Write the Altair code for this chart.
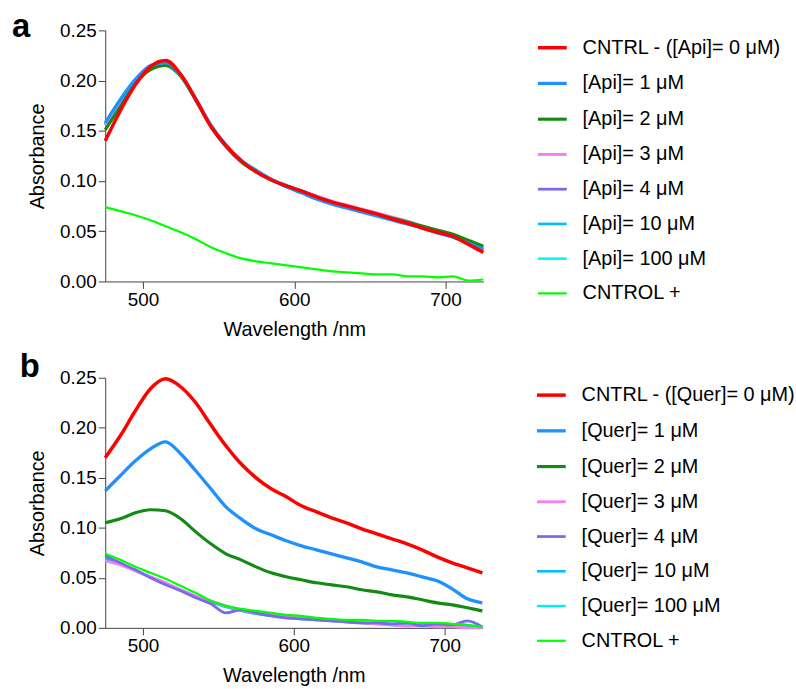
import altair as alt
import pandas as pd

WL = [475, 485, 495, 505, 515, 525, 535, 545, 555, 565, 575, 585, 595,
      605, 615, 625, 635, 645, 655, 665, 675, 685, 695, 705, 715, 725]

A_LABELS = ["CNTRL - ([Api]= 0 μM)", "[Api]= 1 μM", "[Api]= 2 μM", "[Api]= 3 μM",
            "[Api]= 4 μM", "[Api]= 10 μM", "[Api]= 100 μM", "CNTROL +"]
B_LABELS = ["CNTRL - ([Quer]= 0 μM)", "[Quer]= 1 μM", "[Quer]= 2 μM", "[Quer]= 3 μM",
            "[Quer]= 4 μM", "[Quer]= 10 μM", "[Quer]= 100 μM", "CNTROL +"]
COLORS = ["#FF0000", "#1E90FF", "#138A13", "#EE82EE", "#7B68EE", "#00BFFF", "#00F0F0", "#00FF00"]
WIDTHS = [3.5, 2.2, 2.2, 2.2, 2.2, 2.2, 2.2, 3.5]

# Panel a (Apigenin)
A_CNTRL = [0.140, 0.170, 0.196, 0.214, 0.220, 0.206, 0.181, 0.154, 0.135, 0.120, 0.109, 0.101, 0.095,
           0.090, 0.084, 0.079, 0.075, 0.071, 0.067, 0.062, 0.058, 0.053, 0.049, 0.045, 0.037, 0.029]
A_1 = [0.158, 0.181, 0.201, 0.215, 0.218, 0.205, 0.181, 0.155, 0.135, 0.120, 0.110, 0.101, 0.094,
       0.088, 0.082, 0.077, 0.073, 0.069, 0.065, 0.061, 0.057, 0.053, 0.048, 0.044, 0.038, 0.032]
A_2 = [0.151, 0.174, 0.197, 0.211, 0.215, 0.204, 0.180, 0.154, 0.134, 0.119, 0.109, 0.101, 0.095,
       0.090, 0.084, 0.079, 0.075, 0.071, 0.067, 0.063, 0.059, 0.055, 0.051, 0.047, 0.041, 0.035]
A_3 = [0.155, 0.177, 0.199, 0.213, 0.219, 0.206, 0.182, 0.155, 0.135, 0.120, 0.110, 0.102, 0.095,
       0.090, 0.085, 0.080, 0.076, 0.072, 0.068, 0.064, 0.060, 0.055, 0.050, 0.045, 0.039, 0.033]
A_4 = [0.156, 0.178, 0.200, 0.214, 0.218, 0.205, 0.181, 0.155, 0.135, 0.120, 0.110, 0.101, 0.095,
       0.089, 0.084, 0.079, 0.075, 0.071, 0.067, 0.063, 0.058, 0.054, 0.049, 0.045, 0.039, 0.033]
A_10 = [0.157, 0.181, 0.201, 0.214, 0.218, 0.206, 0.182, 0.156, 0.136, 0.121, 0.111, 0.102, 0.095,
        0.090, 0.084, 0.079, 0.075, 0.070, 0.066, 0.062, 0.058, 0.054, 0.049, 0.044, 0.038, 0.032]
A_100 = [0.157, 0.182, 0.202, 0.215, 0.219, 0.206, 0.182, 0.156, 0.136, 0.121, 0.111, 0.102, 0.096,
         0.090, 0.085, 0.080, 0.075, 0.071, 0.067, 0.063, 0.058, 0.054, 0.049, 0.045, 0.039, 0.033]
A_POS = [0.074, 0.070, 0.066, 0.061, 0.055, 0.049, 0.042, 0.034, 0.028, 0.023, 0.020, 0.018, 0.016,
         0.014, 0.012, 0.010, 0.009, 0.008, 0.007, 0.007, 0.005, 0.005, 0.004, 0.005, 0.001, 0.002]

# Panel b (Quercetin)
B_CNTRL = [0.170, 0.192, 0.217, 0.239, 0.249, 0.241, 0.225, 0.203, 0.182, 0.164, 0.150, 0.139, 0.131,
           0.122, 0.116, 0.110, 0.105, 0.099, 0.094, 0.089, 0.084, 0.078, 0.071, 0.065, 0.060, 0.055]
B_1 = [0.137, 0.152, 0.167, 0.179, 0.186, 0.174, 0.157, 0.139, 0.121, 0.109, 0.099, 0.093, 0.087,
       0.082, 0.078, 0.074, 0.070, 0.066, 0.061, 0.058, 0.055, 0.051, 0.047, 0.039, 0.029, 0.025]
B_2 = [0.105, 0.109, 0.115, 0.118, 0.117, 0.109, 0.096, 0.084, 0.074, 0.068, 0.061, 0.055, 0.051,
       0.048, 0.045, 0.043, 0.041, 0.038, 0.036, 0.033, 0.031, 0.028, 0.025, 0.023, 0.020, 0.017]
B_3 = [0.067, 0.063, 0.057, 0.051, 0.045, 0.038, 0.032, 0.027, 0.022, 0.018, 0.015, 0.013, 0.011,
       0.010, 0.009, 0.007, 0.006, 0.005, 0.004, 0.003, 0.002, 0.002, 0.001, 0.001, 0.000, 0.000]
B_4 = [0.072, 0.065, 0.058, 0.050, 0.043, 0.037, 0.030, 0.024, 0.015, 0.018, 0.015, 0.012, 0.010,
       0.009, 0.008, 0.007, 0.006, 0.005, 0.005, 0.004, 0.005, 0.002, 0.004, 0.003, 0.007, 0.001]
B_10 = [0.069, 0.064, 0.057, 0.051, 0.044, 0.038, 0.031, 0.026, 0.021, 0.017, 0.014, 0.012, 0.010,
        0.009, 0.008, 0.007, 0.006, 0.005, 0.004, 0.003, 0.002, 0.003, 0.001, 0.002, 0.001, 0.001]
B_100 = [0.070, 0.064, 0.058, 0.051, 0.045, 0.038, 0.032, 0.026, 0.021, 0.018, 0.015, 0.012, 0.011,
         0.009, 0.008, 0.007, 0.006, 0.005, 0.004, 0.004, 0.003, 0.002, 0.002, 0.001, 0.001, 0.000]
B_POS = [0.074, 0.068, 0.061, 0.055, 0.049, 0.042, 0.035, 0.027, 0.022, 0.019, 0.017, 0.015, 0.013,
         0.012, 0.010, 0.009, 0.008, 0.008, 0.007, 0.007, 0.006, 0.005, 0.005, 0.004, 0.003, 0.001]

A_SERIES = [A_CNTRL, A_1, A_2, A_3, A_4, A_10, A_100, A_POS]
B_SERIES = [B_CNTRL, B_1, B_2, B_3, B_4, B_10, B_100, B_POS]
A_DRAW = [6, 5, 4, 3, 2, 1, 7, 0]
B_DRAW = [0, 1, 2, 6, 5, 3, 4, 7]

FONT = "Liberation Sans"


def panel(labels, series, draw, letter, ldx, ldy, lgx, lgy, w, h):
    rows = []
    for i in draw:
        for x, v in zip(WL, series[i]):
            rows.append({"wl": x, "abs": v, "series": labels[i]})
    df = pd.DataFrame(rows)
    leg = alt.Legend(orient="none", legendX=lgx, legendY=lgy, title=None,
                     symbolType="stroke", symbolSize=841, rowPadding=9,
                     labelOffset=14, labelFontSize=20, labelFont=FONT,
                     labelColor="black", labelLimit=400)
    lines = alt.Chart(df).mark_line(interpolate="monotone").encode(
        x=alt.X("wl:Q", scale=alt.Scale(domain=[475, 725], nice=False, zero=False),
                axis=alt.Axis(values=[500, 600, 700], title="Wavelength /nm", labelPadding=2,
                              titlePadding=10)),
        y=alt.Y("abs:Q", scale=alt.Scale(domain=[0, 0.25], nice=False),
                axis=alt.Axis(values=[0, 0.05, 0.10, 0.15, 0.20, 0.25], format=".2f",
                              title="Absorbance", labelPadding=2, titlePadding=12)),
        color=alt.Color("series:N", scale=alt.Scale(domain=labels, range=COLORS), legend=leg),
        strokeWidth=alt.StrokeWidth("series:N", scale=alt.Scale(domain=labels, range=WIDTHS), legend=leg),
    )
    lab = alt.Chart(pd.DataFrame({"t": [letter]})).mark_text(
        align="left", baseline="alphabetic", fontSize=33, fontWeight="bold", font=FONT, color="black"
    ).encode(text="t:N", x=alt.value(ldx), y=alt.value(ldy))
    return alt.layer(lines, lab).properties(width=w, height=h)


pa = panel(A_LABELS, A_SERIES, A_DRAW, "a", -94, 7, 434, 1, 381, 253)
pb = panel(B_LABELS, B_SERIES, B_DRAW, "b", -86, -1, 433, 1, 380, 252)

chart = alt.vconcat(pa, pb, spacing=12).resolve_scale(
    color="independent", strokeWidth="independent"
).properties(
    padding={"left": 12, "top": 9, "right": 0, "bottom": 0}
).configure_axis(
    grid=False, domainColor="#444444", tickColor="#444444", tickSize=7,
    labelFont=FONT, labelFontSize=19, labelColor="black",
    titleFont=FONT, titleFontSize=20, titleFontWeight="normal", titleColor="black",
).configure_view(stroke=None)

chart.save("out.html", embed_options={"renderer": "svg", "actions": False})
